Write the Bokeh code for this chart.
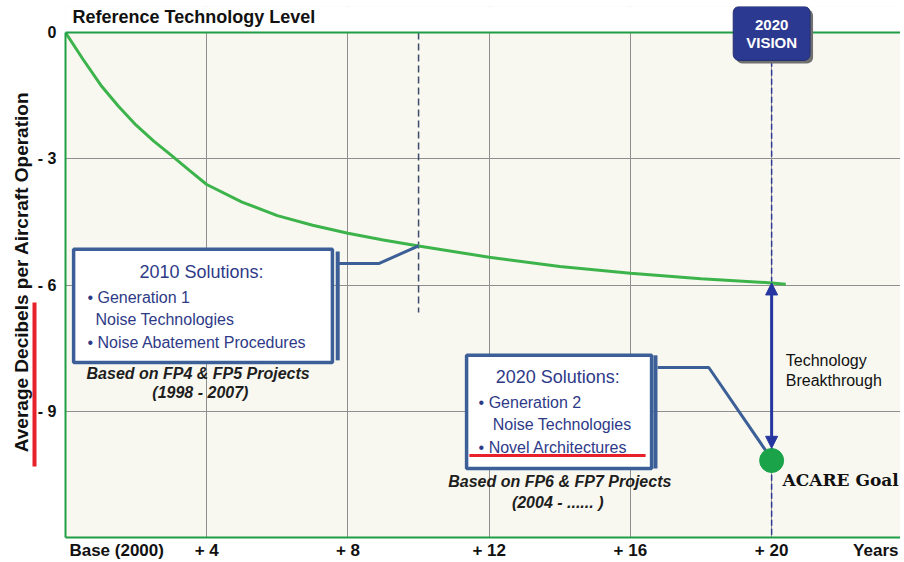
from bokeh.plotting import figure
from bokeh.models import (FixedTicker, Label, Arrow, NormalHead, Span, BoxAnnotation,
                          LinearAxis, Title)
from bokeh.core.properties import value
from bokeh.embed import file_html
from bokeh.resources import INLINE

# ---------------- data ----------------
years = [0, 0.5, 1, 1.5, 2, 2.5, 3, 3.5, 4, 5, 6, 7, 8, 9, 10, 12, 14, 16, 18, 20, 20.4]
reduction_db = [0, -0.64, -1.25, -1.75, -2.2, -2.58, -2.92, -3.27, -3.61, -4.03, -4.35,
                -4.58, -4.77, -4.93, -5.07, -5.34, -5.56, -5.72, -5.85, -5.95, -5.98]
goal_year = [20]
goal_db = [-10.17]
milestone_2010 = 10
milestone_2020 = 20

x_tick_values = [1.45, 4, 8, 12, 16, 20, 22.95]
x_tick_labels = ["Base (2000)", "+ 4", "+ 8", "+ 12", "+ 16", "+ 20", "Years"]
x_grid_values = [4, 8, 12, 16, 20]
y_tick_values = [0, -3, -6, -9]
y_tick_labels = ["0", "- 3", "- 6", "- 9"]
y_grid_values = [-3, -6, -9]

title_text = "Reference Technology Level"
y_label_text = "Average Decibels per Aircraft Operation"
box2010_title = "2010 Solutions:"
box2010_lines = ["• Generation 1", "Noise Technologies", "• Noise Abatement Procedures"]
box2010_note = ["Based on FP4 & FP5  Projects", "(1998 - 2007)"]
box2020_title = "2020 Solutions:"
box2020_lines = ["• Generation 2", "Noise Technologies", "• Novel Architectures"]
box2020_note = ["Based on FP6 & FP7 Projects", "(2004 - ...... )"]
vision_lines = ["2020", "VISION"]
breakthrough_text = ["Technology", "Breakthrough"]
goal_text = "ACARE Goal"

# ---------------- styles ----------------
GREEN = "#3cb44b"
BORDER_GREEN = "#1f9e45"
NAVY = "#2e3a87"
BOX_BLUE = "#3b5f96"
ARROW_BLUE = "#2636a0"
BADGE = "#2b3990"
RED = "#e8202a"
SANS = "Liberation Sans"
Y_TOP = 0.62   # headroom above the 0 dB line for the title and the 2020 badge

p = figure(width=900, height=562, output_backend="svg", toolbar_location=None,
           x_range=(0, 23.65), y_range=(-12, Y_TOP),
           min_border_left=65, min_border_right=0, min_border_top=6, min_border_bottom=0)
p.background_fill_color = "#f8f8f0"
p.border_fill_color = "white"
p.outline_line_color = None

# axes
p.xaxis.ticker = FixedTicker(ticks=x_tick_values)
p.xaxis.major_label_overrides = dict(zip(x_tick_values, x_tick_labels))
p.yaxis.ticker = FixedTicker(ticks=y_tick_values)
p.yaxis.major_label_overrides = dict(zip(y_tick_values, y_tick_labels))
p.yaxis.bounds = (-12, 0)
for ax in (p.xaxis, p.yaxis):
    ax.axis_line_color = BORDER_GREEN
    ax.axis_line_width = 2
    ax.major_tick_line_color = None
    ax.minor_tick_line_color = None
    ax.major_tick_out = 0
    ax.major_tick_in = 0
    ax.minor_tick_out = 0
    ax.minor_tick_in = 0
    ax.major_label_text_font = SANS
    ax.major_label_text_font_style = "bold"
    ax.major_label_text_color = "#111111"
p.xaxis.major_label_text_font_size = "17px"
p.xaxis.major_label_standoff = 3
p.yaxis.major_label_text_font_size = "16px"
p.yaxis.major_label_standoff = 9

# red marker line beside the axis label (an extra bare axis)
red_axis = LinearAxis(ticker=FixedTicker(ticks=[]), bounds=(-10.31, -6.42),
                      axis_line_color=RED, axis_line_width=4,
                      major_tick_line_color=None, minor_tick_line_color=None,
                      major_tick_out=0, major_tick_in=0, minor_tick_out=0, minor_tick_in=0,
                      major_label_text_font_size="0px")
p.add_layout(red_axis, "left")

# y axis title
p.add_layout(Title(text=y_label_text, align="center", text_font=SANS,
                   text_font_size="19px", text_font_style="bold",
                   text_color="#111111", standoff=5), "left")

p.xgrid.ticker = FixedTicker(ticks=x_grid_values)
p.ygrid.ticker = FixedTicker(ticks=y_grid_values)
p.xgrid.grid_line_color = "#8f8f8f"
p.ygrid.grid_line_color = "#8f8f8f"

# white headroom above the 0 dB line
p.add_layout(BoxAnnotation(left=0, right=23.65, bottom=0, top=Y_TOP, level="underlay",
                           fill_color="white", fill_alpha=1, line_color=None))
p.add_layout(Span(location=0, dimension="width", line_color=BORDER_GREEN, line_width=2))

# chart title
p.add_layout(Label(x=0.2, y=0.38, text=title_text, text_align="left", text_baseline="middle",
                   text_font=SANS, text_font_size="18px", text_font_style="bold",
                   text_color="#111111"))

# milestone dashed lines
p.segment(x0=[milestone_2010], y0=[0], x1=[milestone_2010], y1=[-6.65],
          line_color="#3d4a6b", line_width=1.5, line_dash="7 4")
p.segment(x0=[milestone_2020], y0=[-0.67], x1=[milestone_2020], y1=[-12],
          line_color="#2b3a8f", line_width=1.5, line_dash="6 3")

# reference technology curve
p.line(years, reduction_db, line_color=GREEN, line_width=3)

# 2010 box
p.quad(left=[0.23], right=[7.56], top=[-5.15], bottom=[-7.84],
       fill_color="white", line_color=BOX_BLUE, line_width=3.5)
p.segment(x0=[7.71], y0=[-5.20], x1=[7.71], y1=[-7.79], line_color=BOX_BLUE, line_width=4)
p.line([7.71, 8.87, milestone_2010], [-5.49, -5.49, reduction_db[years.index(milestone_2010)]],
       line_color=BOX_BLUE, line_width=3)
p.text(x=[3.85], y=[-5.70], text=[box2010_title], text_align="center", text_baseline="middle",
       text_font=value(SANS), text_font_size="18px", text_color=NAVY)
p.text(x=[0.62, 0.85, 0.62], y=[-6.29, -6.82, -7.36], text=box2010_lines,
       text_align="left", text_baseline="middle",
       text_font=value(SANS), text_font_size="16px", text_color=NAVY)
p.text(x=[3.82, 3.82], y=[-8.10, -8.55], text=box2010_note, text_align="center",
       text_baseline="middle", text_font=value(SANS), text_font_size="16px",
       text_font_style="bold italic", text_color="#1e1e1e")

# 2020 box
p.quad(left=[11.36], right=[16.60], top=[-7.67], bottom=[-10.36],
       fill_color="white", line_color=BOX_BLUE, line_width=3.5)
p.segment(x0=[16.71], y0=[-7.67], x1=[16.71], y1=[-10.36], line_color=BOX_BLUE, line_width=4)
p.line([16.77, 18.22, goal_year[0] - 0.17], [-7.96, -7.96, goal_db[0] + 0.24],
       line_color=BOX_BLUE, line_width=3)
p.text(x=[13.94], y=[-8.19], text=[box2020_title], text_align="center", text_baseline="middle",
       text_font=value(SANS), text_font_size="18px", text_color=NAVY)
p.text(x=[11.70, 12.10, 11.70], y=[-8.79, -9.31, -9.86], text=box2020_lines,
       text_align="left", text_baseline="middle",
       text_font=value(SANS), text_font_size="16px", text_color=NAVY)
p.segment(x0=[11.44], y0=[-10.05], x1=[16.43], y1=[-10.05], line_color=RED, line_width=3)
p.text(x=[14.0, 13.94], y=[-10.67, -11.16], text=box2020_note, text_align="center",
       text_baseline="middle", text_font=value(SANS), text_font_size="16px",
       text_font_style="bold italic", text_color="#1e1e1e")

# technology breakthrough arrow
p.add_layout(Arrow(start=NormalHead(size=12, fill_color=ARROW_BLUE, line_color=ARROW_BLUE),
                   end=NormalHead(size=12, fill_color=ARROW_BLUE, line_color=ARROW_BLUE),
                   x_start=milestone_2020, y_start=reduction_db[-2],
                   x_end=goal_year[0], y_end=goal_db[0] + 0.29,
                   line_color=ARROW_BLUE, line_width=3))
p.text(x=[20.40, 20.40], y=[-7.79, -8.27], text=breakthrough_text, text_align="left",
       text_baseline="middle", text_font=value(SANS), text_font_size="16px", text_color="#111111")

# ACARE goal
p.scatter(goal_year, goal_db, size=24, fill_color="#1ba34a", line_color="#1ba34a")
p.text(x=[20.31], y=[-10.64], text=[goal_text], text_align="left", text_baseline="middle",
       text_font=value("DejaVu Serif"), text_font_size="17px", text_font_style="bold",
       text_color="#111111")

# 2020 vision badge (straddles the 0 dB line)
badge_pad = dict(left=13, right=13, top=28, bottom=9)
p.add_layout(Label(x=milestone_2020, y=-0.02, x_offset=3, y_offset=-3, text=vision_lines[1],
                   text_align="center", text_baseline="middle",
                   text_font=SANS, text_font_size="15px", text_font_style="bold",
                   text_color="#707070", background_fill_color="#707070",
                   padding=badge_pad, border_radius=6))
p.add_layout(Label(x=milestone_2020, y=-0.02, text=vision_lines[1],
                   text_align="center", text_baseline="middle",
                   text_font=SANS, text_font_size="15px", text_font_style="bold",
                   text_color="white", background_fill_color=BADGE,
                   border_line_color="#22306f", padding=badge_pad, border_radius=6))
p.add_layout(Label(x=milestone_2020, y=0.19, text=vision_lines[0],
                   text_align="center", text_baseline="middle",
                   text_font=SANS, text_font_size="15px", text_font_style="bold",
                   text_color="white"))

open("out.html", "w").write(file_html(p, INLINE))
